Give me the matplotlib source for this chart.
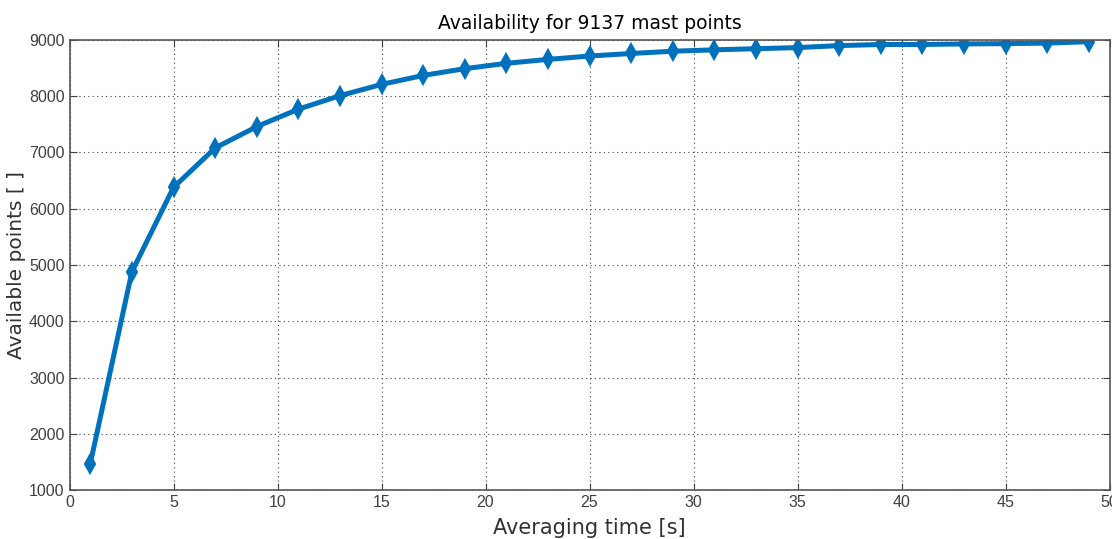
import matplotlib
matplotlib.use("Agg")
import matplotlib.pyplot as plt

# averaging time [s] and available points
avg_time = [1, 3, 5, 7, 9, 11, 13, 15, 17, 19, 21, 23, 25,
            27, 29, 31, 33, 35, 37, 39, 41, 43, 45, 47, 49]
available = [1470, 4880, 6380, 7080, 7460, 7770, 8010, 8210, 8370, 8490,
             8585, 8655, 8715, 8760, 8800, 8825, 8845, 8865, 8900, 8920,
             8920, 8930, 8935, 8945, 8970]

plt.rcParams["font.family"] = ["Liberation Sans", "DejaVu Sans"]

fig = plt.figure(figsize=(11.12, 5.39), dpi=100)
ax = fig.add_axes([0.0625, 0.0909, 0.9353, 0.8349])

ax.plot(avg_time, available, color="#0072BD", linewidth=3.6,
        marker="d", markersize=9, markeredgewidth=1.5)

ax.set_xlim(0, 50)
ax.set_ylim(1000, 9000)
ax.set_xticks(range(0, 51, 5))
ax.set_yticks(range(1000, 9001, 1000))
ax.grid(True, linestyle=(0, (1, 3)), color="#444444", linewidth=0.8)
ax.tick_params(direction="in", length=5, labelsize=11.5, colors="#404040",
               top=True, right=True, labeltop=False, labelright=False)
for s in ax.spines.values():
    s.set_color("#555555")
    s.set_linewidth(1.2)

ax.set_title("Availability for 9137 mast points", fontsize=13.5,
             family=["DejaVu Sans"], pad=8)
ax.set_xlabel("Averaging time [s]", fontsize=15, family=["DejaVu Sans"],
              color="#333333", labelpad=6)
ax.set_ylabel("Available points [ ]", fontsize=14.5, family=["DejaVu Sans"],
              color="#333333", labelpad=2)

fig.savefig("out.png", dpi=100)
